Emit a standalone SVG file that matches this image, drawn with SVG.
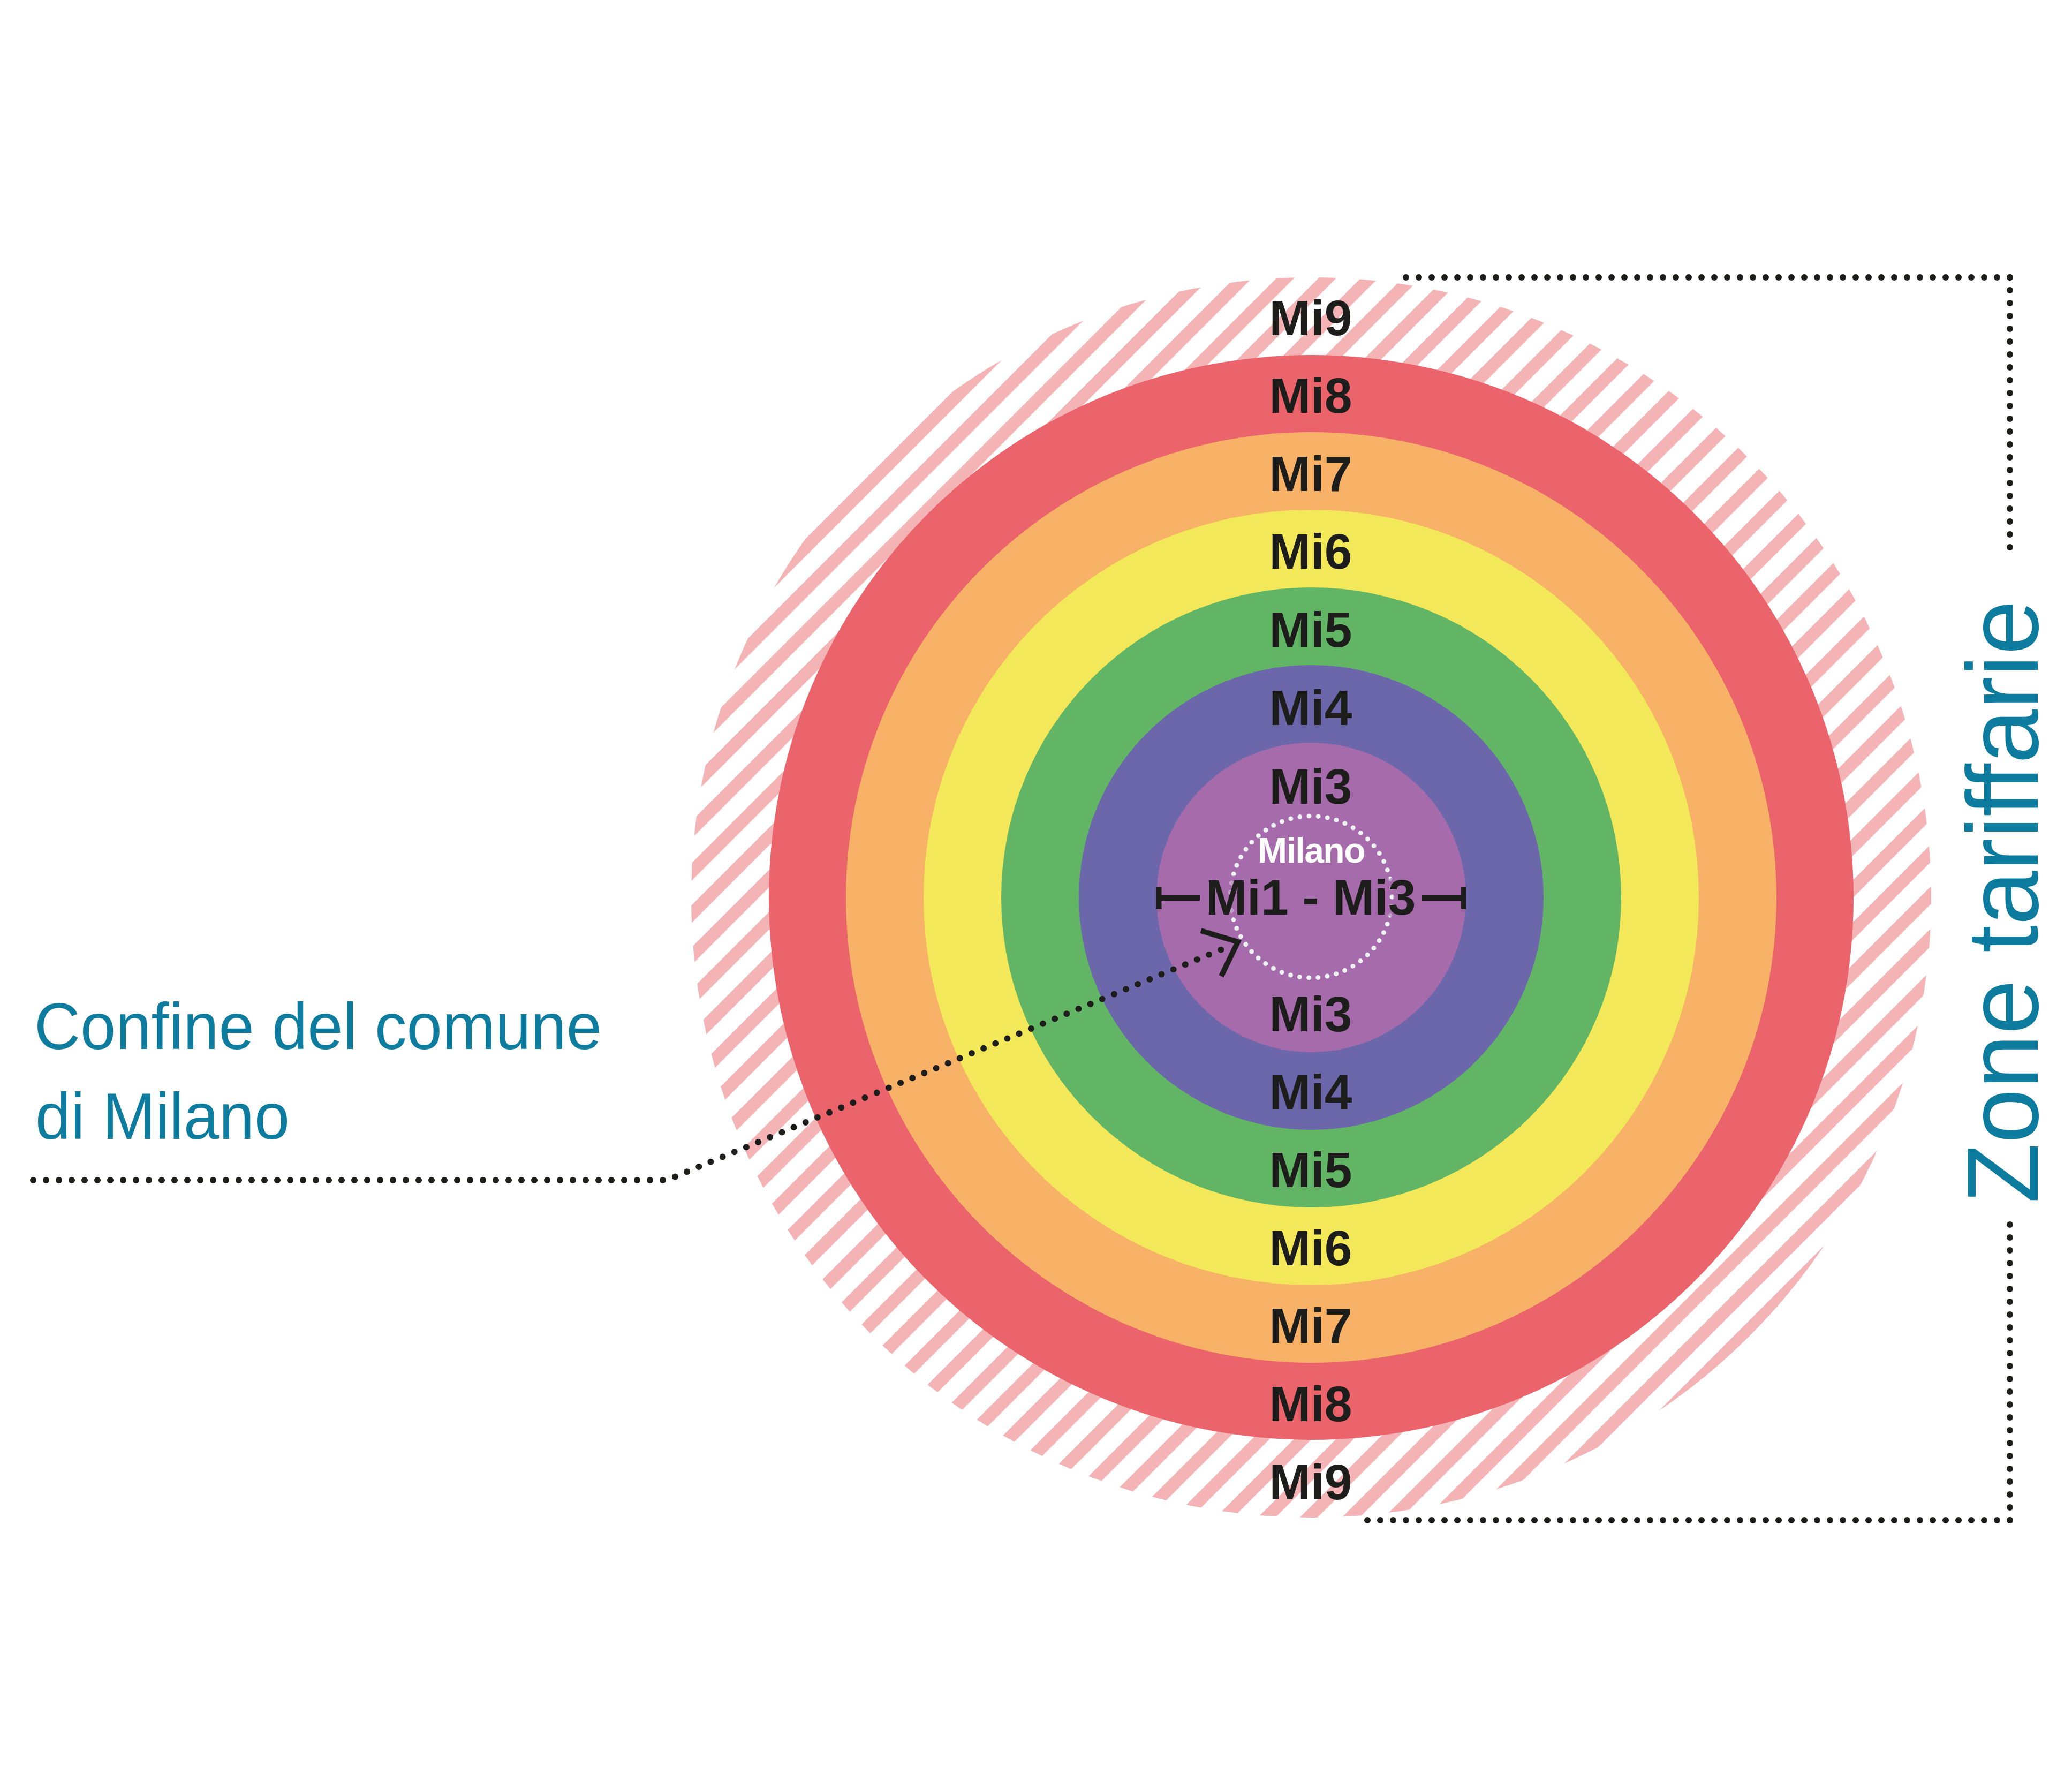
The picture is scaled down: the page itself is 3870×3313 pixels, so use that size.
<svg xmlns="http://www.w3.org/2000/svg" width="3870" height="3313" viewBox="0 0 3870 3313">
  <style>
    .zl { font-family: "Liberation Sans", Arial, sans-serif; font-weight: bold; font-size: 93px; fill: #1D1D1B; text-anchor: middle; }
    .teal { font-family: "Liberation Sans", Arial, sans-serif; fill: #0E7C9E; }
    .dots { fill: none; stroke: #1D1D1B; stroke-width: 12; stroke-linecap: round; stroke-dasharray: 0 24; }
  </style>
  <defs>
    <pattern id="hatch" patternUnits="userSpaceOnUse" x="52.3" y="0" width="55.58" height="100" patternTransform="rotate(45)">
      <rect x="0" y="0" width="23.3" height="100" fill="#F4B3B4"/>
    </pattern>
  </defs>
  <rect width="3870" height="3313" fill="#FFFFFF"/>

  <g id="zone-mi9">
    <circle cx="2449" cy="1676" r="1158" fill="url(#hatch)"/>
  </g>
  <g id="zone-mi8">
    <circle cx="2449" cy="1676" r="1013" fill="#EB636B"/>
  </g>
  <g id="zone-mi7">
    <circle cx="2449" cy="1676" r="869" fill="#F7B267"/>
  </g>
  <g id="zone-mi6">
    <circle cx="2449" cy="1676" r="724" fill="#F2E85A"/>
  </g>
  <g id="zone-mi5">
    <circle cx="2449" cy="1676" r="579" fill="#62B564"/>
  </g>
  <g id="zone-mi4">
    <circle cx="2449" cy="1676" r="434" fill="#6C67AB"/>
  </g>
  <g id="zone-mi3">
    <circle cx="2449" cy="1676" r="289" fill="#A56BAA"/>
  </g>
  <g id="milano">
    <circle cx="2449" cy="1675" r="151" fill="none" stroke="#EEF2F6" stroke-width="9" stroke-linecap="round" stroke-dasharray="0 17.25"/>
    <text x="2449" y="1611" font-family="Liberation Sans, Arial, sans-serif" font-weight="bold" font-size="66" fill="#FFFFFF" text-anchor="middle" letter-spacing="-1.5">Milano</text>
  </g>

  <g id="labels">
    <text class="zl" x="2448" y="626">Mi9</text>
    <text class="zl" x="2448" y="771">Mi8</text>
    <text class="zl" x="2448" y="917">Mi7</text>
    <text class="zl" x="2448" y="1062">Mi6</text>
    <text class="zl" x="2448" y="1208">Mi5</text>
    <text class="zl" x="2448" y="1354">Mi4</text>
    <text class="zl" x="2448" y="1501">Mi3</text>
    <text class="zl" x="2448" y="1926">Mi3</text>
    <text class="zl" x="2448" y="2072">Mi4</text>
    <text class="zl" x="2448" y="2217">Mi5</text>
    <text class="zl" x="2448" y="2363">Mi6</text>
    <text class="zl" x="2448" y="2508">Mi7</text>
    <text class="zl" x="2448" y="2654">Mi8</text>
    <text class="zl" x="2448" y="2800">Mi9</text>
  </g>

  <g id="mi1-mi3">
    <text class="zl" x="2448" y="1708" font-size="95" stroke="#A56BAA" stroke-opacity="0.6" stroke-width="18" stroke-linejoin="round" paint-order="stroke">Mi1 - Mi3</text>
    <path d="M2160 1677 H2241 M2164.5 1656 V1698 M2656 1677 H2738 M2733.5 1656 V1698" fill="none" stroke="#1D1D1B" stroke-width="10"/>
  </g>

  <g id="connectors">
    <path class="dots" d="M62 2204 H1236 Q1249 2204 1262 2197 L2284 1772" stroke-width="11"/>
    <polyline points="2243,1738 2312,1759 2281,1823" fill="none" stroke="#1D1D1B" stroke-width="10" stroke-linejoin="miter"/>
    <path class="dots" d="M3754 518 H2621"/>
    <path class="dots" d="M3754 518 V1046"/>
    <path class="dots" d="M3754 2839 H2550"/>
    <path class="dots" d="M3754 2839 V2284"/>
  </g>

  <g id="caption-confine">
    <text class="teal" x="64" y="1959" font-size="123" textLength="1060" lengthAdjust="spacingAndGlyphs">Confine del comune</text>
    <text class="teal" x="66" y="2127" font-size="123" textLength="475" lengthAdjust="spacingAndGlyphs">di Milano</text>
  </g>

  <g id="caption-zone">
    <text class="teal" transform="translate(3806,2247) rotate(-90)" x="0" y="0" font-size="189" textLength="1126" lengthAdjust="spacingAndGlyphs">Zone tariffarie</text>
  </g>
</svg>
